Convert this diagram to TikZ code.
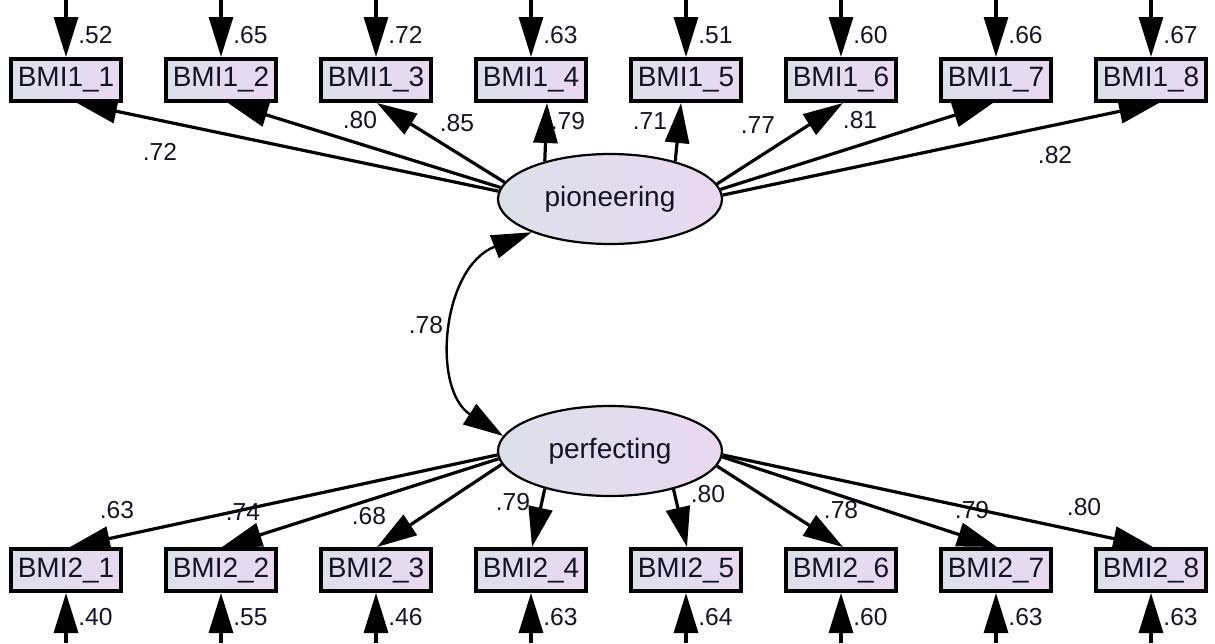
\documentclass[tikz,border=0pt]{standalone}
\usepackage{fontspec}
\setmainfont{Liberation Sans}
\usetikzlibrary{arrows.meta,shapes.geometric,calc}
\definecolor{fillL}{HTML}{DCE0EA}
\definecolor{fillR}{HTML}{EAD8F0}
\definecolor{ink}{HTML}{141426}
\begin{document}
\begin{tikzpicture}[x=0.5pt,y=-0.5pt,
  obs/.style={draw=black, line width=2pt, rectangle, minimum width=55pt,
    minimum height=21pt, inner sep=0pt, left color=fillL, right color=fillR,
    text=ink, font=\fontsize{14}{16}\selectfont},
  lat/.style={draw=black, line width=1.1pt, ellipse, minimum width=112pt,
    minimum height=45pt, inner sep=0pt, left color=fillL, right color=fillR,
    text=ink, font=\fontsize{14}{16}\selectfont},
  head/.tip={Triangle[length=20pt,width=12pt]},
  load/.style={line width=1.6pt, -head},
  num/.style={inner sep=0pt, font=\fontsize{12.3}{14}\selectfont, text=ink},
]
\useasboundingbox (0,0) rectangle (1215,643);

% latent factors
\node[lat] (pio) at (610,199) {pioneering};
\node[lat] (per) at (610,451) {perfecting};

% indicator boxes with their error arrows
\foreach \i/\x/\et/\eb in {1/66/.52/.40, 2/221/.65/.55, 3/376/.72/.46, 4/531/.63/.63,
                           5/686/.51/.64, 6/841/.60/.60, 7/996/.66/.63, 8/1151/.67/.63} {
  \node[obs] (t\i) at (\x,80) {BMI1\_\i};
  \node[obs] (b\i) at (\x,570) {BMI2\_\i};
  \coordinate (et\i) at (\x,0);
  \coordinate (eb\i) at (\x,643);
  \draw[load] (et\i) -- (t\i.north);
  \draw[load] (eb\i) -- (b\i.south);
  \node[num, anchor=west] (rt\i) at (\x+12,35) {\et};
  \node[num, anchor=west] (rb\i) at (\x+12,617) {\eb};
}

% loadings of pioneering
\foreach \i/\a/\dx/\v/\lx/\ly in {1/176/11/.72/160/152, 2/174/7/.80/360/120,
    3/171/1/.85/457/123, 4/150/16/.79/568/121, 5/30/-5/.71/650/121,
    6/8/2/.77/758/125, 7/5/-3/.81/860/120, 8/2/8/.82/1055/155} {
  \draw[load] (pio.\a) -- ($(t\i.south)+(\dx,0)$);
  \node[num] (lt\i) at (\lx,\ly) {\v};
}

% loadings of perfecting
\foreach \i/\a/\dx/\v/\lx/\ly in {1/182/4/.63/117/510, 2/184/1/.74/243/512,
    3/187/1/.68/369/516, 4/210/1/.79/513/502, 5/329/1/.80/708/494,
    6/352/2/.78/841/510, 7/357/1/.79/972/510, 8/358/2/.80/1084/507} {
  \draw[load] (per.\a) -- ($(b\i.north)+(\dx,0)$);
  \node[num] (lb\i) at (\lx,\ly) {\v};
}

% factor correlation
\draw[line width=1.2pt, head-head] (pio.203) .. controls +(-90,35) and +(-72,-47) .. (per.172);
\node[num] (corr) at (426,325) {.78};
\end{tikzpicture}
\end{document}
